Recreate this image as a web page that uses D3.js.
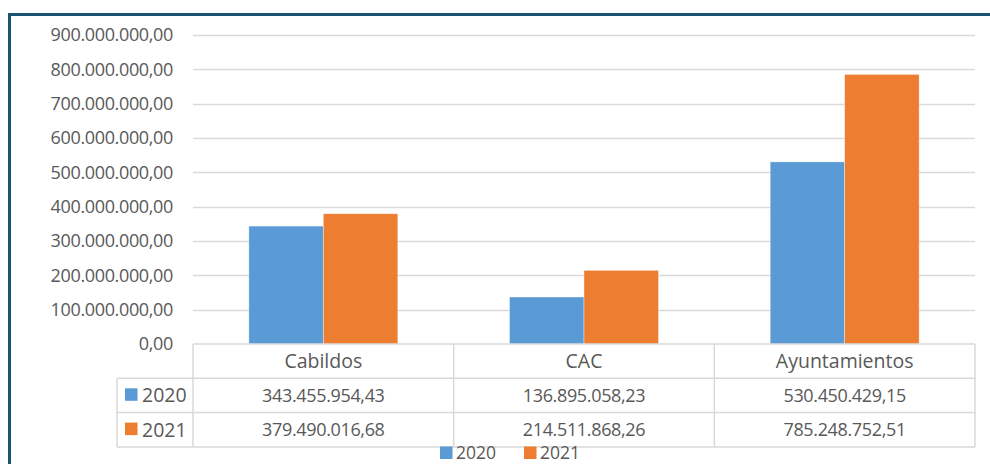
<!DOCTYPE html>
<html><head><meta charset="utf-8">
<script src="https://cdn.jsdelivr.net/npm/d3@7"></script>
<style>
html,body{margin:0;padding:0;background:#fff;}
svg{display:block;font-family:"Open Sans",sans-serif;}
</style></head>
<body>
<svg id="c" width="990" height="464"></svg>
<script>
const categories = ["Cabildos", "CAC", "Ayuntamientos"];
const seriesNames = ["2020", "2021"];
const values2020 = [343455954.43, 136895058.23, 530450429.15];
const values2021 = [379490016.68, 214511868.26, 785248752.51];
const tableText2020 = ["343.455.954,43", "136.895.058,23", "530.450.429,15"];
const tableText2021 = ["379.490.016,68", "214.511.868,26", "785.248.752,51"];
const yTicks = [0, 100000000, 200000000, 300000000, 400000000, 500000000, 600000000, 700000000, 800000000, 900000000];
const colors = ["#5B9BD5", "#ED7D31"];

const svg = d3.select("#c");
const textColor = "#595959";
const gridColor = "#D9D9D9";
const fsNum = 18, lsNum = -0.35, fsText = 19.5;

// frame
svg.append("path").attr("d", "M9.5,464 L9.5,14.5 L990,14.5")
  .attr("fill", "none").attr("stroke", "#1B5470").attr("stroke-width", 3);

const x0 = 193, x1 = 975, yTop = 35, yBot = 344;
const y = d3.scaleLinear().domain([0, 900000000]).range([yBot, yTop]);
const x = d3.scaleBand().domain(categories).range([x0, x1]).padding(0);
const bw = x.bandwidth();
const xs = d3.scaleBand().domain(seriesNames).range([bw * 0.75 / 3.5, bw * 2.75 / 3.5]).padding(0);

// grid
const fmt = v => d3.format(",.2f")(v).replace(/,/g, "X").replace(/\./g, ",").replace(/X/g, ".");
svg.append("g").selectAll("line").data(yTicks.filter(d => d > 0)).join("line")
  .attr("x1", x0).attr("x2", x1)
  .attr("y1", d => Math.round(y(d)) + 0.5).attr("y2", d => Math.round(y(d)) + 0.5)
  .attr("stroke", gridColor).attr("stroke-width", 1.5);

// y axis labels
const yAxis = d3.axisLeft(y).tickValues(yTicks).tickFormat(fmt).tickSize(0).tickPadding(0);
const ga = svg.append("g").attr("transform", `translate(173,0)`).call(yAxis);
ga.select(".domain").remove();
ga.selectAll("text").attr("font-size", fsNum).attr("letter-spacing", lsNum)
  .attr("fill", textColor).attr("font-family", "Open Sans");

// bars
const data = categories.map((c, i) => ({c, vals: [values2020[i], values2021[i]]}));
const g = svg.append("g");
data.forEach(d => {
  seriesNames.forEach((s, j) => {
    g.append("rect")
      .attr("x", x(d.c) + xs(s))
      .attr("y", y(d.vals[j]))
      .attr("width", xs.bandwidth())
      .attr("height", yBot - y(d.vals[j]))
      .attr("fill", colors[j])
      .attr("stroke", "#fff").attr("stroke-opacity", 0.5).attr("stroke-width", 0.75);
  });
});

// data table
const rowH = 34.3;
const r0 = yBot, r1 = r0 + rowH, r2 = r1 + rowH, r3 = r2 + rowH;
const legX = 117;
const tg = svg.append("g").attr("stroke", gridColor).attr("stroke-width", 1.5);
tg.append("line").attr("x1", x0).attr("x2", x1).attr("y1", r0).attr("y2", r0);
[r1, r2, r3].forEach(r => tg.append("line").attr("x1", legX).attr("x2", x1).attr("y1", r).attr("y2", r));
tg.append("line").attr("x1", legX).attr("x2", legX).attr("y1", r1).attr("y2", r3);
[x0, ...categories.map(c => x(c) + bw)].forEach(xx =>
  tg.append("line").attr("x1", xx).attr("x2", xx).attr("y1", r0).attr("y2", r3));

const tt = svg.append("g").attr("fill", textColor).attr("text-anchor", "middle");
categories.forEach((c, i) => {
  tt.append("text").attr("x", x(c) + bw / 2).attr("y", r0 + rowH / 2).attr("dy", "0.35em")
    .attr("font-size", fsText).text(c);
  tt.append("text").attr("x", x(c) + bw / 2).attr("y", r1 + rowH / 2).attr("dy", "0.35em")
    .attr("font-size", fsNum).attr("letter-spacing", lsNum).text(tableText2020[i]);
  tt.append("text").attr("x", x(c) + bw / 2).attr("y", r2 + rowH / 2).attr("dy", "0.35em")
    .attr("font-size", fsNum).attr("letter-spacing", lsNum).text(tableText2021[i]);
});
seriesNames.forEach((s, j) => {
  const ry = [r1, r2][j];
  svg.append("rect").attr("x", 125).attr("y", ry + 10).attr("width", 12.5).attr("height", 12.5).attr("fill", colors[j]);
  svg.append("text").attr("x", 142).attr("y", ry + rowH / 2).attr("dy", "0.36em")
    .attr("font-size", fsText).attr("fill", textColor).text(s);
});

// bottom legend
const legPos = [440, 524];
seriesNames.forEach((s, j) => {
  svg.append("rect").attr("x", legPos[j]).attr("y", 446.5).attr("width", 12.5).attr("height", 12.5).attr("fill", colors[j]);
  svg.append("text").attr("x", legPos[j] + 16).attr("y", 459)
    .attr("font-size", 17.5).attr("fill", textColor).text(s);
});
</script>
</body></html>
